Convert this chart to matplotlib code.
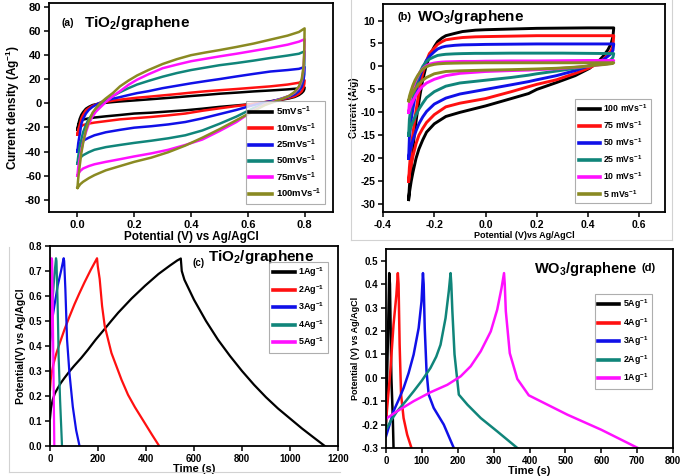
import numpy as np
import matplotlib
matplotlib.use("Agg")
import matplotlib.pyplot as plt
from matplotlib.lines import Line2D

plt.rcParams['font.family'] = ['Liberation Sans', 'DejaVu Sans']
plt.rcParams['font.weight'] = 'bold'
plt.rcParams['mathtext.fontset'] = 'custom'
plt.rcParams['mathtext.rm'] = 'Liberation Sans:bold'
plt.rcParams['mathtext.bf'] = 'Liberation Sans:bold'
plt.rcParams['mathtext.default'] = 'bf'
plt.rcParams['axes.unicode_minus'] = False

BLACK, RED, BLUE, TEAL, MAGENTA, OLIVE = '#000000', '#ff1010', '#1010e8', '#10857a', '#ff10ff', '#8a8a22'

# ---------------- (a) TiO2/graphene CV ----------------
a_rates = ['5mVs$^{-1}$', '10mVs$^{-1}$', '25mVs$^{-1}$', '50mVs$^{-1}$', '75mVs$^{-1}$', '100mVs$^{-1}$']
a_colors = [BLACK, RED, BLUE, TEAL, MAGENTA, OLIVE]
a_v_up = [0.0, 0.003, 0.008, 0.014, 0.02, 0.03, 0.04, 0.053, 0.065, 0.08, 0.1, 0.125, 0.15, 0.18,
          0.21, 0.25, 0.3, 0.35, 0.4, 0.45, 0.5, 0.56, 0.62, 0.68, 0.74, 0.78, 0.8]
a_v_dn = [0.8, 0.799, 0.796, 0.79, 0.78, 0.765, 0.745, 0.72, 0.69, 0.66, 0.62, 0.56, 0.5, 0.44,
          0.38, 0.32, 0.26, 0.2, 0.15, 0.1, 0.06, 0.04, 0.02, 0.01, 0.004, 0.0]
a_i_up = [
    [-22, -17.5, -13, -9.5, -7.3, -4.5, -3, -1.5, -0.8, -0.2, 0.4, 1, 1.5, 2, 2.5, 3.2, 4.1, 5, 6, 6.9, 7.9, 8.8, 9.8, 10.6, 11.5, 12.3, 13],
    [-26, -22, -18, -12.5, -9.5, -5.8, -4, -2.2, -1, 0.2, 1.2, 2.2, 3, 3.8, 4.6, 5.4, 6.5, 7.6, 8.8, 9.9, 10.8, 11.8, 12.9, 14, 15.5, 17, 19],
    [-40, -33, -26, -17, -13, -8.5, -5.5, -3, -1.3, 0.5, 2.3, 3.8, 5.1, 6.8, 8.4, 10, 12.5, 14.5, 16.5, 18.3, 20, 22.2, 24.3, 26.3, 27.5, 28.5, 30],
    [-50, -44, -36, -30, -24, -18, -13, -9, -5.5, -2.5, 2, 6, 9.2, 12.5, 15.5, 18.5, 22, 25, 27.5, 29.5, 31.5, 33.3, 35.3, 37.5, 39.5, 41, 43],
    [-60, -53, -46, -39, -32, -24, -17, -11, -7, -3.5, 1, 6, 10, 15.3, 19.5, 24, 29, 32, 34.8, 36.8, 38.8, 41, 43.4, 45.8, 48.5, 51, 53],
    [-70, -62, -52, -41, -33, -22, -15, -8, -4, 0, 4, 8.5, 14, 18.8, 23, 27.5, 32.5, 36.5, 39.8, 42, 44, 46.6, 49.4, 52.7, 56, 59, 62],
]
a_i_dn = [
    [13, 11.5, 10, 8.5, 6.8, 5.2, 4, 3, 1.8, 0.8, -0.5, -1.8, -3, -4.5, -5.8, -6.8, -7.8, -8.5, -9.7, -10.8, -11.8, -12.5, -13.5, -15, -17.5, -22],
    [19, 16, 13, 10, 7.8, 5.8, 4.5, 3.2, 2, 1, -0.5, -2.3, -4.2, -6.2, -8.5, -10, -11.3, -12.4, -13.3, -14.8, -16, -16.8, -18, -19.5, -22, -26],
    [30, 24, 19, 14, 10, 7.3, 5.3, 3.6, 2, 0.8, -1.5, -5.5, -9, -12.5, -15.5, -17.5, -19, -20.2, -22, -24, -26.5, -28.5, -31, -33.5, -36.5, -40],
    [43, 32, 24, 17, 12, 8.5, 6, 4, 1.8, -0.3, -4, -11, -17, -22.5, -26.5, -29, -31, -32.8, -34.5, -36.3, -38.5, -40.5, -43, -45, -47.5, -50],
    [53, 40, 28, 19, 13, 9, 6, 3.8, 1.5, -1, -6, -15.5, -23, -30, -34.5, -38.5, -41.5, -44, -46.3, -48.5, -50.5, -52, -54, -56, -58, -60],
    [62, 45, 30, 20, 14, 9.5, 6, 3.6, 1, -1.5, -6.5, -14, -21.5, -28.5, -35, -40.5, -45, -48.5, -52, -55.5, -59.5, -62, -65, -67, -69, -70],
]

# ---------------- (b) WO3/graphene CV ----------------
b_rates = ['100 mVs$^{-1}$', '75 mVs$^{-1}$', '50 mVs$^{-1}$', '25 mVs$^{-1}$', '10 mVs$^{-1}$', '5 mVs$^{-1}$']
b_colors = [BLACK, RED, BLUE, TEAL, MAGENTA, OLIVE]
b_v_up = [-0.3, -0.297, -0.29, -0.284, -0.275, -0.265, -0.255, -0.245, -0.232, -0.219, -0.2, -0.187,
          -0.17, -0.155, -0.12, -0.09, -0.04, 0.0, 0.1, 0.2, 0.3, 0.4, 0.5]
b_v_dn = [0.5, 0.497, 0.49, 0.477, 0.46, 0.445, 0.42, 0.406, 0.35, 0.277, 0.2, 0.168, 0.1, 0.0, -0.1,
          -0.155, -0.2, -0.23, -0.245, -0.26, -0.271, -0.283, -0.29, -0.297, -0.3]
b_i_up = [
    [-29, -26.2, -21.5, -18.2, -13.5, -9.5, -6, -2.9, 0, 2.2, 4.3, 5.4, 6.2, 6.7, 7.2, 7.6, 7.9, 8.0, 8.15, 8.3, 8.35, 8.4, 8.4],
    [-25, -22, -17.5, -15, -11, -7.5, -4, -1.5, 1, 2.8, 4.0, 4.8, 5.4, 5.8, 6.1, 6.3, 6.45, 6.5, 6.6, 6.7, 6.7, 6.7, 6.7],
    [-20, -15.5, -11.5, -9.5, -6.5, -4, -2, -0.5, 1.2, 2.2, 3.2, 3.8, 4.2, 4.4, 4.6, 4.7, 4.75, 4.8, 4.85, 4.9, 4.9, 4.9, 4.9],
    [-15, -11.5, -8.5, -7, -4.8, -2.8, -1.2, 0, 1.0, 1.6, 2.1, 2.4, 2.55, 2.65, 2.75, 2.8, 2.85, 2.85, 2.9, 2.9, 2.9, 2.85, 2.8],
    [-10, -8, -6, -4.8, -3.4, -2.2, -1.2, -0.5, 0.1, 0.5, 0.75, 0.85, 0.95, 1.0, 1.05, 1.1, 1.1, 1.15, 1.2, 1.2, 1.25, 1.3, 1.3],
    [-7.5, -6.5, -5.2, -4.2, -3.0, -2.0, -1.2, -0.6, -0.1, 0.2, 0.45, 0.55, 0.62, 0.67, 0.72, 0.75, 0.78, 0.8, 0.8, 0.8, 0.8, 0.8, 0.8],
]
b_i_dn = [
    [8.4, 6.5, 5.0, 3.6, 2.3, 1.4, 0.3, -0.4, -2.0, -3.5, -5.0, -5.9, -7.0, -8.6, -10.0, -10.9, -12.5, -14.3, -16, -18, -20, -23, -25, -27.5, -29],
    [6.7, 4.5, 3.4, 2.6, 1.6, 1.0, 0.1, -0.3, -1.5, -2.9, -3.9, -4.4, -5.5, -7.0, -8.0, -8.8, -10.5, -12.2, -13.5, -15, -16.8, -19.5, -21.5, -23.5, -25],
    [4.9, 3.5, 2.8, 2.2, 1.5, 1.0, 0.4, 0.2, -0.9, -2.0, -2.9, -3.3, -4.0, -5.0, -6.0, -6.9, -8.2, -9.8, -11, -12.5, -14, -16, -17.5, -19, -20],
    [2.8, 2.0, 1.5, 1.1, 0.8, 0.6, 0.3, 0.1, -0.4, -1.0, -1.6, -1.9, -2.4, -3.0, -3.6, -4.3, -5.5, -6.8, -8, -9.3, -10.5, -12, -13, -14.2, -15],
    [1.3, 1.0, 0.8, 0.6, 0.45, 0.35, 0.2, 0.1, -0.2, -0.5, -0.7, -0.8, -0.9, -1.1, -1.5, -2.0, -2.8, -3.6, -4.3, -5.2, -6.2, -7.5, -8.4, -9.3, -10],
    [0.8, 0.7, 0.6, 0.5, 0.4, 0.35, 0.2, 0.1, -0.15, -0.4, -0.55, -0.6, -0.7, -0.8, -0.95, -1.1, -1.6, -2.4, -3.0, -3.8, -4.6, -5.6, -6.3, -7.0, -7.5],
]

# ---------------- (c) TiO2/graphene GCD ----------------
c_labels = ['1Ag$^{-1}$', '2Ag$^{-1}$', '3Ag$^{-1}$', '4Ag$^{-1}$', '5Ag$^{-1}$']
c_colors = [BLACK, RED, BLUE, TEAL, MAGENTA]
c_t = [
    [0, 4, 11, 20, 32, 45, 60, 80, 100, 130, 158, 190, 225, 255, 284, 340, 396, 452, 500, 530, 545,
     549, 560, 600, 650, 700, 750, 800, 850, 900, 950, 1000, 1050, 1100, 1145],
    [0, 3, 7, 15, 25, 40, 60, 80, 102, 122, 144, 170, 196, 199, 207, 217, 228, 256, 298, 325, 354, 396, 425, 455],
    [0, 4, 10, 18, 25, 32, 46, 57, 59, 64, 71, 81, 95, 109, 123],
    [0, 1, 6, 11, 18, 25, 27, 32, 36, 42, 50],
    [0, 2, 4, 7, 9, 13, 18],
]
c_v = [
    [0.11, 0.15, 0.184, 0.21, 0.231, 0.252, 0.272, 0.297, 0.32, 0.352, 0.385, 0.425, 0.465, 0.5, 0.533,
     0.59, 0.641, 0.688, 0.722, 0.742, 0.75, 0.70, 0.665, 0.585, 0.50, 0.425, 0.36, 0.30, 0.245, 0.195,
     0.15, 0.11, 0.07, 0.033, 0.0],
    [0.224, 0.265, 0.292, 0.33, 0.366, 0.41, 0.465, 0.515, 0.567, 0.61, 0.655, 0.705, 0.751, 0.72, 0.668,
     0.56, 0.48, 0.372, 0.265, 0.205, 0.155, 0.09, 0.045, 0.0],
    [0.42, 0.453, 0.51, 0.56, 0.6, 0.641, 0.70, 0.751, 0.74, 0.628, 0.426, 0.292, 0.157, 0.063, 0.0],
    [0.38, 0.426, 0.51, 0.587, 0.681, 0.751, 0.74, 0.56, 0.359, 0.184, 0.0],
    [0.29, 0.43, 0.56, 0.751, 0.74, 0.426, 0.0],
]

# ---------------- (d) WO3/graphene GCD ----------------
d_labels = ['5Ag$^{-1}$', '4Ag$^{-1}$', '3Ag$^{-1}$', '2Ag$^{-1}$', '1Ag$^{-1}$']
d_colors = [BLACK, RED, BLUE, TEAL, MAGENTA]
d_t = [
    [0, 5, 9, 11, 15, 19, 21],
    [0, 6, 12, 21, 29, 33, 35, 38, 42, 49, 59, 71],
    [0, 10, 21, 35, 49, 63, 77, 91, 99, 103, 105, 108, 113, 119, 133, 161, 189],
    [0, 15, 31, 55, 77, 100, 124, 140, 152, 166, 175, 180, 182, 185, 191, 203, 227, 264, 310, 366],
    [0, 31, 77, 124, 171, 208, 236, 264, 292, 310, 322, 329, 331, 334, 345, 366, 398, 506, 600, 702],
]
d_v = [
    [-0.22, 0.141, 0.447, 0.40, 0.0, -0.172, -0.3],
    [-0.186, -0.08, 0.027, 0.227, 0.355, 0.447, 0.40, 0.141, -0.072, -0.172, -0.243, -0.3],
    [-0.25, -0.2, -0.143, -0.095, -0.044, 0.02, 0.099, 0.212, 0.326, 0.447, 0.40, 0.212, 0.027, -0.072, -0.129, -0.20, -0.3],
    [-0.222, -0.18, -0.143, -0.1, -0.058, -0.012, 0.042, 0.09, 0.141, 0.255, 0.369, 0.447, 0.40, 0.284, 0.10, -0.072, -0.115, -0.172, -0.229, -0.3],
    [-0.175, -0.143, -0.10, -0.062, -0.03, 0.006, 0.049, 0.113, 0.198, 0.291, 0.383, 0.447, 0.40, 0.284, 0.105, -0.005, -0.075, -0.158, -0.222, -0.3],
]

W, H = 685, 476
fig = plt.figure(figsize=(6.85, 4.76), dpi=100)


def box(x0, y0, x1, y1):
    # pixel rect (top-left origin) -> axes in figure fraction
    return [x0 / W, 1 - y1 / H, (x1 - x0) / W, (y1 - y0) / H]


def style(ax, tick_size):
    for s in ax.spines.values():
        s.set_linewidth(1.3)
    ax.tick_params(direction='out', length=3.5, width=1.1, labelsize=tick_size,
                   top=False, right=False, pad=2)
    for lab in ax.get_xticklabels() + ax.get_yticklabels():
        lab.set_fontweight('bold')


def legend(ax, loc, anchor, size, spacing):
    lg = ax.legend(loc=loc, bbox_to_anchor=anchor, fontsize=size, frameon=True,
                   fancybox=False, edgecolor='#9a9a9a', handlelength=2.4,
                   labelspacing=spacing, borderpad=0.4, handletextpad=0.4,
                   borderaxespad=0)
    lg.get_frame().set_linewidth(0.8)
    for line in lg.get_lines():
        line.set_linewidth(2.6)


LW = 1.8

# (a)
ax = fig.add_axes(box(49, 3, 333, 212))
for lab, col, iu, idn in zip(a_rates, a_colors, a_i_up, a_i_dn):
    ax.plot(a_v_up + a_v_dn, iu + idn, color=col, lw=LW, label=lab)
ax.set_xlim(-0.1, 0.9)
ax.set_ylim(-90, 83)
ax.set_xticks([0.0, 0.2, 0.4, 0.6, 0.8])
ax.set_yticks(range(-80, 81, 20))
style(ax, 8)
ax.set_xlabel('Potential (V) vs Ag/AgCl', fontsize=8.5, fontweight='bold', labelpad=1)
ax.set_ylabel('Current density (Ag$^{-1}$)', fontsize=8.5, fontweight='bold', labelpad=2)
ax.text(0.045, 0.905, '(a)', transform=ax.transAxes, fontsize=7.5, fontweight='bold', va='center')
ax.text(0.125, 0.905, 'TiO$_2$/graphene', transform=ax.transAxes, fontsize=11, fontweight='bold', va='center')
legend(ax, 'lower right', (0.972, 0.04), 6.8, 0.32)

# (b)
ax = fig.add_axes(box(383, 4, 665, 212))
for lab, col, iu, idn in zip(b_rates, b_colors, b_i_up, b_i_dn):
    ax.plot(b_v_up + b_v_dn, iu + idn, color=col, lw=LW + 0.3, label=lab)
ax.set_xlim(-0.4, 0.7)
ax.set_ylim(-31.7, 13.6)
ax.set_xticks([-0.4, -0.2, 0.0, 0.2, 0.4, 0.6])
ax.set_yticks(range(-30, 11, 5))
style(ax, 7.5)
ax.set_xlabel('Potential (V)vs Ag/AgCl', fontsize=6.5, fontweight='bold', labelpad=1)
ax.set_ylabel('Current (A/g)', fontsize=7, fontweight='bold', labelpad=1)
ax.text(0.052, 0.937, '(b)', transform=ax.transAxes, fontsize=8, fontweight='bold', va='center')
ax.text(0.122, 0.937, 'WO$_3$/graphene', transform=ax.transAxes, fontsize=11, fontweight='bold', va='center')
legend(ax, 'lower right', (0.95, 0.043), 6.3, 0.62)

# (c)
ax = fig.add_axes(box(50, 246, 338, 446))
for lab, col, t, v in zip(c_labels, c_colors, c_t, c_v):
    ax.plot(t, v, color=col, lw=LW - 0.2, label=lab)
ax.set_xlim(0, 1200)
ax.set_ylim(0, 0.8)
ax.set_xticks(range(0, 1201, 200))
ax.set_yticks(np.arange(0, 0.81, 0.1))
style(ax, 7)
ax.set_xlabel('Time (s)', fontsize=8, fontweight='bold', labelpad=0)
ax.set_ylabel('Potential(V) vs Ag/AgCl', fontsize=7.5, fontweight='bold', labelpad=2)
ax.text(0.495, 0.915, '(c)', transform=ax.transAxes, fontsize=7, fontweight='bold', va='center')
ax.text(0.55, 0.945, 'TiO$_2$/graphene', transform=ax.transAxes, fontsize=11, fontweight='bold', va='center')
legend(ax, 'upper right', (0.965, 0.92), 6.5, 0.42)

# (d)
ax = fig.add_axes(box(386, 249, 673, 448))
for lab, col, t, v in zip(d_labels, d_colors, d_t, d_v):
    ax.plot(t, v, color=col, lw=LW, label=lab)
ax.set_xlim(0, 800)
ax.set_ylim(-0.3, 0.55)
ax.set_xticks(range(0, 801, 100))
ax.set_yticks(np.round(np.arange(-0.3, 0.51, 0.1), 1))
style(ax, 7)
ax.set_xlabel('Time (s)', fontsize=8, fontweight='bold', labelpad=0)
ax.set_ylabel('Potential (V) vs Ag/AgCl', fontsize=6.5, fontweight='bold', labelpad=1)
ax.text(0.515, 0.9, 'WO$_3$/graphene', transform=ax.transAxes, fontsize=10.5, fontweight='bold', va='center')
ax.text(0.89, 0.905, '(d)', transform=ax.transAxes, fontsize=8, fontweight='bold', va='center')
legend(ax, 'upper right', (0.926, 0.774), 6.3, 0.55)

# faint collage borders
grey = '#d2d2d2'
for xs, ys in [((351, 351), (0, 240)), ((351, 672), (240, 240)), ((672, 672), (0, 240)),
               ((9, 9), (247, 472)), ((9, 340), (472, 472))]:
    fig.add_artist(Line2D([x / W for x in xs], [1 - y / H for y in ys], color=grey, lw=0.8))

fig.savefig('out.png', dpi=100)
